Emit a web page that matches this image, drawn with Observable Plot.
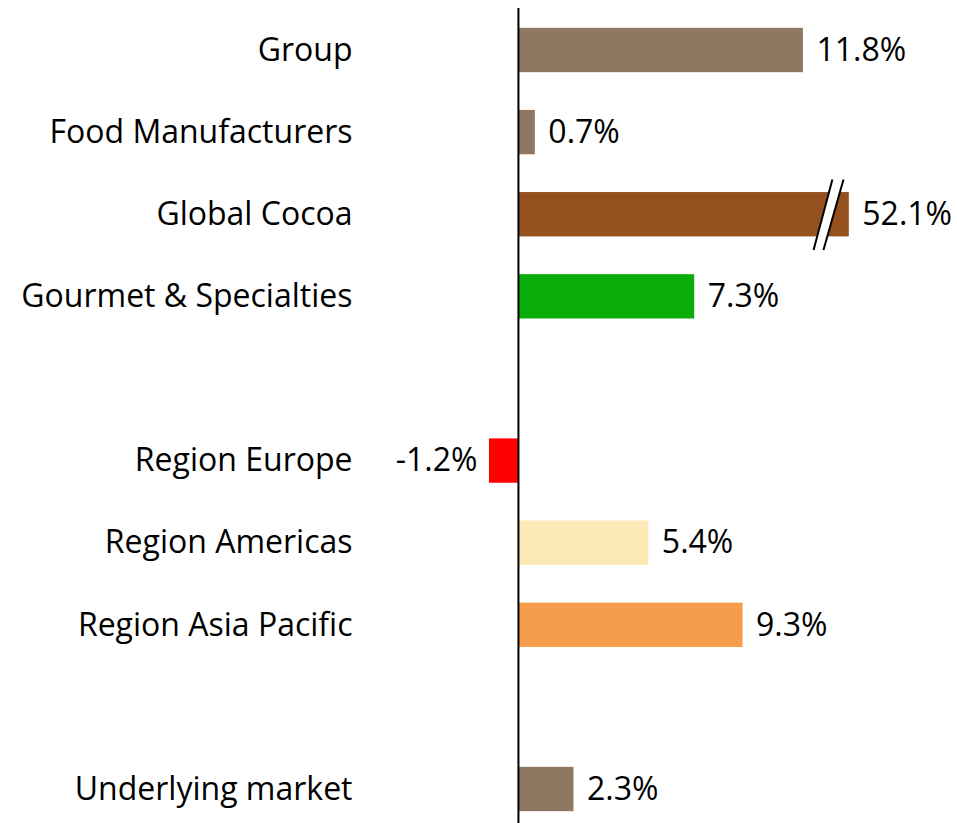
<!DOCTYPE html>
<html>
<head>
<meta charset="utf-8">
<script src="https://cdn.jsdelivr.net/npm/d3@7"></script>
<script src="https://cdn.jsdelivr.net/npm/@observablehq/plot@0.6"></script>
<style>
  html, body { margin: 0; padding: 0; background: #fff; }
</style>
</head>
<body>
<div id="chart"></div>
<script>
// ---- data ----
const categories = ["Group", "Food Manufacturers", "Global Cocoa", "Gourmet & Specialties", "",
  "Region Europe", "Region Americas", "Region Asia Pacific", "", "Underlying market"];
const values = [11.8, 0.7, 52.1, 7.3, null, -1.2, 5.4, 9.3, null, 2.3];
const colors = ["#8f7862", "#8f7862", "#95501f", "#0aae0a", null,
  "#ff0000", "#fde9b5", "#f59d4b", null, "#8f7862"];
const breakCap = 13.7;   // value at which the off-scale bar is cut
const breakGap = [12.22, 12.63, 13.0, 13.46]; // bottom-left, bottom-right, top-left, top-right of break marks

const rows = categories.map((c, i) => ({c, i, v: values[i], color: colors[i]}))
  .filter(d => d.v != null)
  .map(d => ({...d, shown: Math.min(d.v, breakCap)}));
const pos = rows.filter(d => d.v >= 0);
const neg = rows.filter(d => d.v < 0);
const fmt = v => v.toFixed(1) + "%";

const cocoa = rows.find(d => d.v > breakCap);
const h = 0.43;
const breakArea = [
  {y: cocoa.i - h, x1: breakGap[2], x2: breakGap[3]},
  {y: cocoa.i + h, x1: breakGap[0], x2: breakGap[1]}
];
const breakLines = [
  {x1: breakGap[2], y1: cocoa.i - h, x2: breakGap[0], y2: cocoa.i + h},
  {x1: breakGap[3], y1: cocoa.i - h, x2: breakGap[1], y2: cocoa.i + h}
];

const FS = 32;
const chart = Plot.plot({
  width: 957,
  height: 823,
  marginLeft: 360,
  marginRight: 0,
  marginTop: 8,
  marginBottom: 0,
  style: {fontFamily: "'Open Sans', sans-serif", fontSize: FS + "px", color: "#000", background: "#fff"},
  x: {domain: [-6.54, 18.18], axis: null},
  y: {domain: [-0.5115, 9.414], reverse: true},
  marks: [
    Plot.rectX(rows, {x1: 0, x2: "shown", y1: d => d.i - 0.27, y2: d => d.i + 0.27, fill: d => d.color}),
    Plot.areaX(breakArea, {y: "y", x1: "x1", x2: "x2", fill: "white"}),
    Plot.link(breakLines, {x1: "x1", y1: "y1", x2: "x2", y2: "y2", stroke: "black", strokeWidth: 2}),
    Plot.ruleX([0], {stroke: "black", strokeWidth: 2}),
    Plot.axisY({ticks: categories.map((c, i) => i).filter(i => categories[i] !== ""),
      tickFormat: i => categories[i], tickSize: 0, tickPadding: 8, fontSize: FS, label: null}),
    Plot.text(pos, {x: "shown", y: "i", text: d => fmt(d.v), textAnchor: "start", dx: 13, fontSize: FS, fill: "black"}),
    Plot.text(neg, {x: "shown", y: "i", text: d => fmt(d.v), textAnchor: "end", dx: -12, fontSize: FS, fill: "black"})
  ]
});
document.getElementById("chart").appendChild(chart);
</script>
</body>
</html>
